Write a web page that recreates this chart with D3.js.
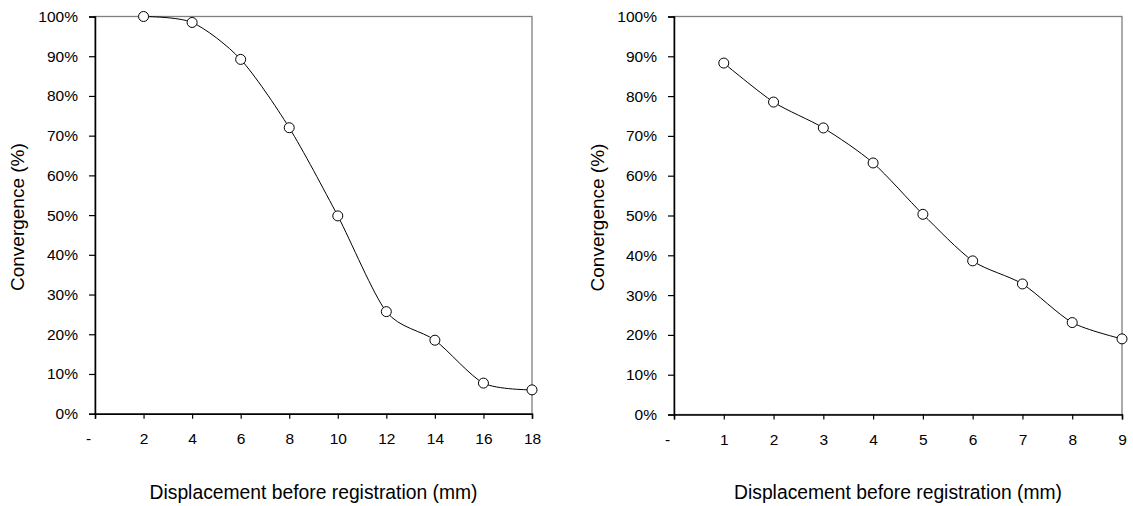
<!DOCTYPE html>
<html>
<head>
<meta charset="utf-8">
<script src="https://d3js.org/d3.v7.min.js"></script>
<style>
  body { margin: 0; background: #fff; }
  text { font-family: Arial, "Liberation Sans", sans-serif; fill: #000; }
</style>
</head>
<body>
<script>
// left panel: displacement 2..18 mm
const leftX = [2, 4, 6, 8, 10, 12, 14, 16, 18];
const leftY = [100, 98.5, 89.2, 72.0, 49.8, 25.7, 18.5, 7.7, 6.0];
const leftTicks = [0, 2, 4, 6, 8, 10, 12, 14, 16, 18];

// right panel: displacement 1..9 mm
const rightX = [1, 2, 3, 4, 5, 6, 7, 8, 9];
const rightY = [88.3, 78.5, 72.0, 63.2, 50.3, 38.6, 32.8, 23.1, 19.0];
const rightTicks = [0, 1, 2, 3, 4, 5, 6, 7, 8, 9];

const yTicks = [0, 10, 20, 30, 40, 50, 60, 70, 80, 90, 100];
const xTitle = "Displacement before registration (mm)";
const yTitle = "Convergence (%)";

const svg = d3.select("body").append("svg")
    .attr("width", 1133)
    .attr("height", 506);

function panel(box, xs, ys, ticks, titleX) {
    const x = d3.scaleLinear().domain([0, ticks[ticks.length - 1]]).range([box.left, box.right]);
    const y = d3.scaleLinear().domain([0, 100]).range([box.bottom, box.top]);
    const g = svg.append("g");

    // plot area border (top / right grey)
    g.append("rect")
        .attr("x", box.left).attr("y", box.top)
        .attr("width", box.right - box.left).attr("height", box.bottom - box.top)
        .attr("fill", "none").attr("stroke", "#7f7f7f").attr("stroke-width", 1.3);

    const yAxis = g.append("g")
        .attr("transform", `translate(${box.left},0)`)
        .call(d3.axisLeft(y).tickValues(yTicks).tickSize(6).tickPadding(11).tickFormat(d => d + "%"));
    yAxis.selectAll("text").attr("font-size", "15.5px").attr("font-family", "Arial, 'Liberation Sans', sans-serif");

    const xAxis = g.append("g")
        .attr("transform", `translate(0,${box.bottom})`)
        .call(d3.axisBottom(x).tickValues(ticks).tickSize(5).tickPadding(14).tickFormat(d => d === 0 ? "-" : d));
    xAxis.selectAll("text").attr("font-size", "15.5px").attr("font-family", "Arial, 'Liberation Sans', sans-serif")
        .attr("dx", d => d === 0 ? -7 : 0);

    [yAxis, xAxis].forEach(a => {
        a.select(".domain").attr("stroke", "#000").attr("stroke-width", 1.5);
        a.selectAll(".tick line").attr("stroke", "#000").attr("stroke-width", 1.2);
    });

    const pts = xs.map((v, i) => [x(v), y(ys[i])]);
    g.append("path")
        .attr("d", d3.line().curve(d3.curveCardinal.tension(0.2))(pts))
        .attr("fill", "none").attr("stroke", "#000").attr("stroke-width", 1);

    g.selectAll("circle.pt").data(pts).join("circle")
        .attr("class", "pt")
        .attr("cx", d => d[0]).attr("cy", d => d[1]).attr("r", 5)
        .attr("fill", "#fff").attr("stroke", "#000").attr("stroke-width", 1);

    g.append("text")
        .attr("x", (box.left + box.right) / 2).attr("y", 499)
        .attr("text-anchor", "middle").attr("font-size", "19.3px")
        .text(xTitle);

    g.append("text")
        .attr("transform", `translate(${titleX},${(box.top + box.bottom) / 2 + 2}) rotate(-90)`)
        .attr("text-anchor", "middle").attr("font-size", "19px")
        .text(yTitle);
}

panel({ left: 95, right: 532, top: 16.5, bottom: 413.7 }, leftX, leftY, leftTicks, 24);
panel({ left: 674, right: 1122, top: 16.5, bottom: 414.5 }, rightX, rightY, rightTicks, 604);
</script>
</body>
</html>
